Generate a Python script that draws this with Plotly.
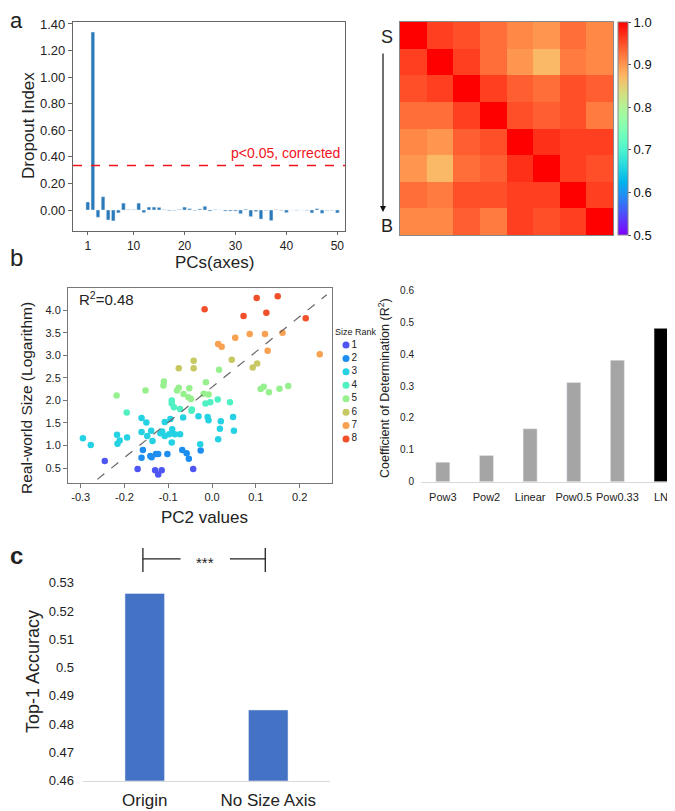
import numpy as np
import plotly.graph_objects as go

# The page body has an 8px default margin, so the figure is laid out in
# reference pixel coordinates and shifted by that offset.
W0, H0 = 675, 811
OFF = 8
W, H = W0 - OFF, H0 - OFF
def px(x): return (x - OFF) / W
def py(y): return 1 - (y - OFF) / H

FONT = "Liberation Sans, Arial, sans-serif"

# ---------------- Panel a (left): dropout index per PC ----------------
pc_index = list(range(1, 51))
dropout_index = [0.06, 1.34, -0.055, 0.10, -0.075, -0.082, -0.022, 0.052, 0.003, 0.002,
                 0.052, -0.02, 0.022, 0.022, 0.02, 0.002, -0.005, -0.003, 0.004, 0.022,
                 0.01, -0.004, 0.008, 0.028, -0.008, 0.002, 0.0, -0.008, -0.008, -0.008,
                 -0.028, 0.006, -0.05, -0.012, -0.068, -0.004, -0.08, 0.002, -0.004, -0.02,
                 0.0, -0.002, 0.0, -0.003, -0.022, 0.01, -0.025, -0.003, -0.002, -0.022]
threshold = 0.335
threshold_label = "p<0.05, corrected"
pc_range = [-1.9, 51.5]
pc_ticks = [1, 10, 20, 30, 40, 50]
dropout_ticks = [0.0, 0.2, 0.4, 0.6, 0.8, 1.0, 1.2, 1.4]

# ---------------- Panel a (right): similarity matrix ----------------
sim_row1 = [1.00, 0.96, 0.95, 0.93, 0.91, 0.90, 0.93, 0.91]
sim_row2 = [0.96, 1.00, 0.96, 0.93, 0.90, 0.87, 0.92, 0.91]
sim_row3 = [0.95, 0.96, 1.00, 0.96, 0.94, 0.93, 0.95, 0.94]
sim_row4 = [0.93, 0.93, 0.96, 1.00, 0.95, 0.94, 0.95, 0.92]
sim_row5 = [0.91, 0.90, 0.94, 0.95, 1.00, 0.97, 0.96, 0.96]
sim_row6 = [0.90, 0.87, 0.93, 0.94, 0.97, 1.00, 0.96, 0.95]
sim_row7 = [0.93, 0.92, 0.95, 0.95, 0.96, 0.96, 1.00, 0.96]
sim_row8 = [0.91, 0.91, 0.94, 0.92, 0.96, 0.95, 0.96, 1.00]
cbar_ticks = [0.5, 0.6, 0.7, 0.8, 0.9, 1.0]
cbar_ticktext = ["0.5", "0.6", "0.7", "0.8", "0.9", "1.0"]

# ---------------- Panel b (left): PC2 vs real-world size ----------------
rank_pc2 = {
    1: [-0.245, -0.170, -0.130, -0.123, -0.115, -0.043],
    2: [-0.158, -0.161, -0.141, -0.138, -0.128, -0.123, -0.102, -0.068, -0.058, -0.053, -0.026],
    3: [-0.295, -0.277, -0.217, -0.211, -0.216, -0.194, -0.161, -0.150, -0.161, -0.148, -0.139,
        -0.136, -0.108, -0.095, -0.114, -0.108, -0.091, -0.085, -0.073, -0.092, -0.066, -0.031,
        -0.010, -0.008, 0.020, 0.048, 0.050, 0.018, 0.014, -0.027, -0.098, -0.118],
    4: [-0.195, -0.092, -0.092, -0.087, -0.073, -0.046, -0.047, -0.015, -0.004, 0.041, 0.013],
    5: [-0.218, -0.152, -0.110, -0.111, -0.076, -0.080, -0.065, -0.052, -0.054, -0.048, -0.014,
        -0.019, -0.008, 0.016, 0.111, 0.118, 0.130, 0.154, 0.174],
    6: [-0.076, -0.042, -0.042, 0.045, 0.093, 0.103],
    7: [0.014, 0.022, 0.053, 0.086, 0.121, 0.161, 0.127, 0.246],
    8: [-0.017, 0.072, 0.124, 0.214, 0.102, 0.150],
}
rank_logsize = {
    1: [0.66, 0.48, 0.45, 0.36, 0.45, 0.48],
    2: [0.90, 0.73, 0.77, 0.74, 0.81, 0.81, 0.81, 0.90, 0.83, 0.71, 0.89],
    3: [1.16, 1.01, 1.24, 1.11, 1.04, 1.18, 1.61, 1.51, 1.30, 1.21, 1.33,
        1.10, 1.52, 1.59, 1.31, 1.21, 1.36, 1.25, 1.25, 1.07, 1.62, 1.65,
        1.63, 1.56, 1.54, 1.63, 1.33, 1.37, 1.14, 1.03, 1.25, 1.27],
    4: [1.73, 2.00, 1.93, 1.85, 1.81, 1.80, 1.77, 1.93, 1.96, 1.96, 2.02],
    5: [2.11, 2.22, 2.42, 2.33, 2.28, 2.22, 2.14, 2.27, 2.07, 2.03, 2.40,
        2.15, 2.13, 2.68, 2.25, 2.30, 2.18, 2.26, 2.32],
    6: [2.71, 2.88, 2.71, 2.90, 2.73, 2.82],
    7: [3.25, 3.19, 3.39, 3.47, 3.47, 3.50, 3.10, 3.02],
    8: [4.02, 3.87, 3.94, 3.82, 4.27, 4.31],
}
size_ranks = [1, 2, 3, 4, 5, 6, 7, 8]
rank_colors = ["#4f55f2", "#1d8ef0", "#25d2e4", "#4ff0c2", "#96f08e", "#c8c862", "#f8a150", "#f1502a"]
fit_x = [-0.262, 0.262]
fit_y = [0.25, 4.34]
r2_text = "R<sup>2</sup>=0.48"
pc2_ticks = [-0.3, -0.2, -0.1, 0.0, 0.1, 0.2]
pc2_ticktext = ["-0.3", "-0.2", "-0.1", "0.0", "0.1", "0.2"]
size_ticks = [0.5, 1.0, 1.5, 2.0, 2.5, 3.0, 3.5, 4.0]
size_ticktext = ["0.5", "1.0", "1.5", "2.0", "2.5", "3.0", "3.5", "4.0"]

# ---------------- Panel b (right): R^2 by model ----------------
models = ["Pow3", "Pow2", "Linear", "Pow0.5", "Pow0.33", "LN"]
r2_values = [0.061, 0.082, 0.166, 0.311, 0.381, 0.481]
r2_colors = ["#a5a5a5", "#a5a5a5", "#a5a5a5", "#a5a5a5", "#a5a5a5", "#000000"]
r2_ticks = [0, 0.1, 0.2, 0.3, 0.4, 0.5, 0.6]
r2_ticktext = ["0", "0.1", "0.2", "0.3", "0.4", "0.5", "0.6"]

# ---------------- Panel c: top-1 accuracy ----------------
conditions = ["Origin", "No Size Axis"]
accuracy = [0.5262, 0.485]
acc_ticks = [0.46, 0.47, 0.48, 0.49, 0.50, 0.51, 0.52, 0.53]
acc_ticktext = ["0.46", "0.47", "0.48", "0.49", "0.5", "0.51", "0.52", "0.53"]
sig_label = "***"
sig_y = 0.5384


def rainbow(t):
    r = min(1.0, abs(2 * t - 0.5))
    g = np.sin(np.pi * t)
    b = np.cos(np.pi * t / 2)
    return f"rgb({int(round(r*255))},{int(round(g*255))},{int(round(b*255))})"

rainbow_scale = [[i / 20, rainbow(i / 20)] for i in range(21)]

fig = go.Figure()

# Panel a bars
fig.add_trace(go.Bar(x=pc_index, y=dropout_index, marker_color="#2a7ab9", width=0.72,
                     xaxis="x", yaxis="y", showlegend=False))
# significance threshold
fig.add_trace(go.Scatter(x=pc_range, y=[threshold, threshold], mode="lines",
                         line=dict(color="#f0141e", width=1.3, dash="dash"),
                         xaxis="x", yaxis="y", showlegend=False))

# Heatmap
sim = [sim_row1, sim_row2, sim_row3, sim_row4, sim_row5, sim_row6, sim_row7, sim_row8]
fig.add_trace(go.Heatmap(z=sim, zmin=0.5, zmax=1.0, colorscale=rainbow_scale,
                         xaxis="x2", yaxis="y2", xgap=0, ygap=0,
                         colorbar=dict(x=px(618), xanchor="left", xpad=0, thickness=10,
                                       len=(235 - 22) / H, lenmode="fraction",
                                       y=py(128.5), yanchor="middle", ypad=0,
                                       outlinewidth=1, outlinecolor="#888",
                                       tickvals=cbar_ticks, ticktext=cbar_ticktext,
                                       ticks="outside", ticklen=3, tickcolor="#555",
                                       tickfont=dict(size=13, color="#111", family=FONT))))

# Scatter
for i, r in enumerate(size_ranks):
    fig.add_trace(go.Scatter(x=rank_pc2[r], y=rank_logsize[r], mode="markers",
                             marker=dict(size=6.5, color=rank_colors[i]),
                             xaxis="x3", yaxis="y3", showlegend=False))
fig.add_trace(go.Scatter(x=fit_x, y=fit_y, mode="lines",
                         line=dict(color="#666", width=1.2, dash="dash"),
                         xaxis="x3", yaxis="y3", showlegend=False))

# Manual legend for size rank
fig.add_trace(go.Scatter(x=[0] * len(size_ranks), y=size_ranks, mode="markers+text",
                         text=[str(r) for r in size_ranks], textposition="middle right",
                         textfont=dict(size=10, color="#222", family=FONT),
                         marker=dict(size=7, color=rank_colors),
                         xaxis="x4", yaxis="y4", showlegend=False, cliponaxis=False))

# R^2 bars
fig.add_trace(go.Bar(x=models, y=r2_values, marker_color=r2_colors, width=0.32,
                     xaxis="x5", yaxis="y5", showlegend=False))

# Panel c bars
fig.add_trace(go.Bar(x=conditions, y=accuracy, marker_color="#4472c4", width=0.32,
                     xaxis="x6", yaxis="y6", showlegend=False))

axis_font = dict(family=FONT, color="#222")

fig.update_layout(
    width=W, height=H, margin=dict(l=0, r=0, t=0, b=0, autoexpand=False),
    paper_bgcolor="white", plot_bgcolor="white",
    font=dict(family=FONT, color="#222"),
    xaxis=dict(domain=[px(73), px(345)], range=pc_range, anchor="y",
               tickvals=pc_ticks, showline=True, mirror=True, linecolor="#666", linewidth=1.2,
               ticks="outside", ticklen=3, tickcolor="#666", showgrid=False, zeroline=False,
               tickfont=dict(size=12, **axis_font)),
    yaxis=dict(domain=[py(231), py(22)], range=[-0.158, 1.415], anchor="x",
               tickvals=dropout_ticks, tickformat=".2f", showline=True, mirror=True,
               linecolor="#666", linewidth=1.2, ticks="outside", ticklen=4, tickcolor="#666",
               showgrid=False, zeroline=False, tickfont=dict(size=13, **axis_font)),
    xaxis2=dict(domain=[px(400), px(613)], range=[-0.5, 7.5], anchor="y2",
                showticklabels=False, ticks="", showgrid=False, zeroline=False,
                showline=True, mirror=True, linecolor="#888", linewidth=1),
    yaxis2=dict(domain=[py(235), py(22)], range=[7.5, -0.5], anchor="x2",
                showticklabels=False, ticks="", showgrid=False, zeroline=False,
                showline=True, mirror=True, linecolor="#888", linewidth=1),
    xaxis3=dict(domain=[px(68), px(332)], range=[-0.329, 0.274], anchor="y3",
                tickvals=pc2_ticks, ticktext=pc2_ticktext, showline=True, mirror=True,
                linecolor="#777", linewidth=1, ticks="outside", ticklen=4, tickcolor="#777",
                showgrid=False, zeroline=False, tickfont=dict(size=11, **axis_font)),
    yaxis3=dict(domain=[py(483), py(288)], range=[0.17, 4.49], anchor="x3",
                tickvals=size_ticks, ticktext=size_ticktext, showline=True, mirror=True,
                linecolor="#777", linewidth=1, ticks="outside", ticklen=4, tickcolor="#777",
                showgrid=False, zeroline=False, tickfont=dict(size=11, **axis_font)),
    xaxis4=dict(domain=[px(340), px(375)], range=[-0.857, 4.143], anchor="y4", visible=False),
    yaxis4=dict(domain=[py(445.7), py(338.3)], range=[8.5, 0.5], anchor="x4", visible=False),
    xaxis5=dict(domain=[px(421), 1.0], range=[-0.5, 5.32], anchor="y5", type="category",
                showline=True, linecolor="#d9d9d9", linewidth=1, ticks="", showgrid=False,
                ticklabelstandoff=5, tickfont=dict(size=11, **axis_font)),
    yaxis5=dict(domain=[py(481.7), py(290.4)], range=[0, 0.6], anchor="x5",
                tickvals=r2_ticks, ticktext=r2_ticktext, showline=False, showgrid=False,
                zeroline=False, ticks="", ticklabelstandoff=6, tickfont=dict(size=10, **axis_font)),
    xaxis6=dict(domain=[px(83), px(330)], range=[-0.5, 1.5], anchor="y6", type="category",
                showline=True, linecolor="#d9d9d9", linewidth=1, ticks="", showgrid=False,
                ticklabelstandoff=4, tickfont=dict(size=17, **axis_font)),
    yaxis6=dict(domain=[py(780.7), py(540.3)], range=[0.46, 0.545], anchor="x6",
                tickvals=acc_ticks, ticktext=acc_ticktext, showline=False, showgrid=False,
                zeroline=False, ticks="", ticklabelstandoff=8, tickfont=dict(size=13, **axis_font)),
)
fig.update_xaxes(automargin=False)
fig.update_yaxes(automargin=False)

# significance bracket in panel c
for (x0, x1, y0, y1) in [(-0.015, 0.29, sig_y, sig_y), (0.69, 0.976, sig_y, sig_y),
                         (-0.015, -0.015, sig_y - 0.0046, sig_y + 0.0039),
                         (0.976, 0.976, sig_y - 0.0046, sig_y + 0.0039)]:
    fig.add_shape(type="line", xref="x6", yref="y6", x0=x0, x1=x1, y0=y0, y1=y1,
                  line=dict(color="#222", width=1.3))

def ann(text, x, y, size, angle=0, xanchor="center", yanchor="middle", color="#222", bold=False):
    t = f"<b>{text}</b>" if bold else text
    fig.add_annotation(text=t, x=px(x), y=py(y), xref="paper", yref="paper", showarrow=False,
                       textangle=angle, xanchor=xanchor, yanchor=yanchor,
                       font=dict(size=size, color=color, family=FONT))

ann("a", 16, 21, 22)
ann("b", 16, 257, 24)
ann("c", 16, 555, 24, bold=True)
ann("Dropout Index", 28, 126, 17, angle=-90)
ann("PCs(axes)", 214, 263, 17)
ann(threshold_label, 342, 153, 14, xanchor="right", color="#f0141e")
ann("S", 387, 37, 18)
ann("B", 387, 226, 18)
ann(r2_text, 77, 298, 15, xanchor="left")
ann("Real-world Size (Logarithm)", 27, 398, 15.5, angle=-90)
ann("PC2 values", 204, 517, 17)
ann("Size Rank", 333, 332, 9, xanchor="left")
ann("Coefficient of Determination (R<sup>2</sup>)", 384, 388, 12.5, angle=-90)
ann("Top-1 Accuracy", 33, 672, 18, angle=-90)
ann(sig_label, 205, 562, 15)

# S -> B arrow
fig.add_annotation(x=px(383), y=py(212), xref="paper", yref="paper",
                   ax=0, ay=-160, axref="pixel", ayref="pixel",
                   showarrow=True, arrowhead=2, arrowsize=1,
                   arrowwidth=1.2, arrowcolor="#111", text="")

fig.write_html("out.html")
